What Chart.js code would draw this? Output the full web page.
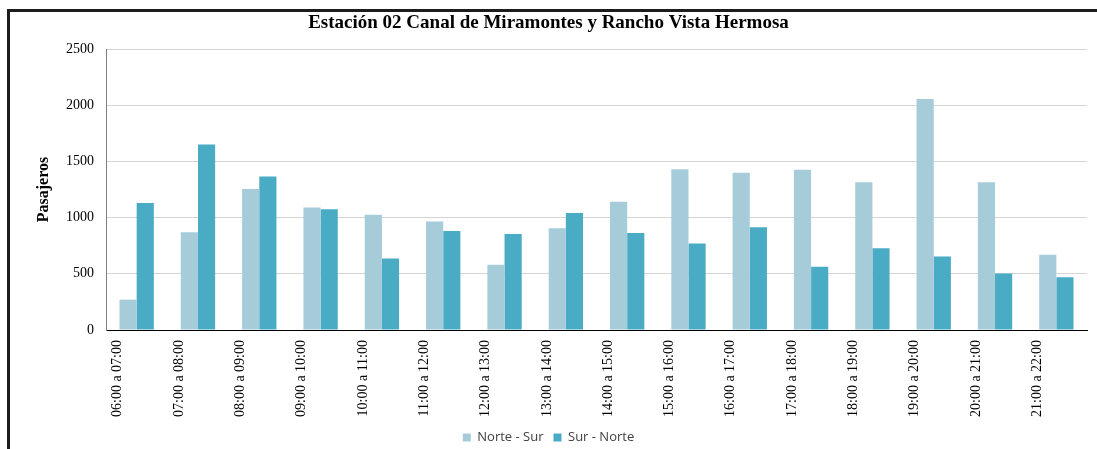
<!DOCTYPE html>
<html lang="es">
<head>
  <meta charset="utf-8">
  <title>Estación 02 Canal de Miramontes y Rancho Vista Hermosa</title>
  <script src="https://cdn.jsdelivr.net/npm/chart.js@4.4.1/dist/chart.umd.min.js"></script>
  <style>
    html, body { margin: 0; padding: 0; background: #fff; overflow: hidden; }
    .frame {
      position: absolute; left: 7px; top: 9px;
      width: 1087px; height: 442px;
      border-top: 3px solid #1c1c1c;
      border-left: 3px solid #1c1c1c;
    }
  </style>
</head>
<body>
<div class="frame">
  <canvas id="grafica"></canvas>
</div>

<script type="text/javascript">
// horarios (eje x)
var horarios = [
  '06:00 a 07:00', '07:00 a 08:00', '08:00 a 09:00', '09:00 a 10:00',
  '10:00 a 11:00', '11:00 a 12:00', '12:00 a 13:00', '13:00 a 14:00',
  '14:00 a 15:00', '15:00 a 16:00', '16:00 a 17:00', '17:00 a 18:00',
  '18:00 a 19:00', '19:00 a 20:00', '20:00 a 21:00', '21:00 a 22:00'
];
// pasajeros por sentido
var norteSur = [270, 870, 1255, 1090, 1025, 965, 580, 905, 1140, 1430, 1400, 1425, 1315, 2055, 1315, 670];
var surNorte = [1130, 1650, 1365, 1075, 637, 880, 855, 1040, 863, 770, 915, 562, 728, 655, 503, 470];
var ticksY = [0, 500, 1000, 1500, 2000, 2500];

var serif = "'Liberation Serif', 'Times New Roman', serif";

var ctx = document.getElementById('grafica').getContext('2d');
new Chart(ctx, {
  type: 'bar',
  data: {
    labels: horarios,
    datasets: [
      {
        label: 'Norte - Sur',
        data: norteSur,
        backgroundColor: '#a6ccda',
        borderWidth: 0
      },
      {
        label: 'Sur - Norte',
        data: surNorte,
        backgroundColor: '#4aabc5',
        borderWidth: 0
      }
    ]
  },
  options: {
    responsive: true,
    maintainAspectRatio: false,
    animation: false,
    datasets: { bar: { categoryPercentage: 0.56, barPercentage: 1.0 } },
    layout: { padding: { left: 0, right: 10, top: 0, bottom: 0 } },
    plugins: {
      title: {
        display: true,
        text: 'Estación 02 Canal de Miramontes y Rancho Vista Hermosa',
        color: '#000',
        font: { family: serif, size: 19, weight: 'bold', lineHeight: 1 },
        padding: { top: 2, bottom: 16 }
      },
      legend: {
        position: 'bottom',
        labels: {
          boxWidth: 8,
          boxHeight: 8,
          padding: 10,
          color: '#404040',
          font: { family: "'Open Sans', sans-serif", size: 13 }
        }
      },
      tooltip: { enabled: false }
    },
    scales: {
      x: {
        grid: { display: false, drawTicks: false },
        border: { color: '#000', width: 1 },
        ticks: {
          autoSkip: false,
          maxRotation: 90,
          minRotation: 90,
          padding: 10,
          labelOffset: -19,
          color: '#000',
          font: { family: serif, size: 14 }
        },
        afterFit: function(scale) { scale.height = 91; }
      },
      y: {
        min: 0,
        max: 2500,
        afterBuildTicks: function(scale) {
          scale.ticks = ticksY.map(function(v) { return { value: v }; });
        },
        grid: { color: '#d4d4d4', drawTicks: false },
        border: { color: '#7f7f7f', width: 1 },
        ticks: {
          padding: 12,
          color: '#000',
          font: { family: serif, size: 14 },
          callback: function(v) { return String(v); }
        },
        title: {
          display: true,
          text: 'Pasajeros',
          color: '#000',
          font: { family: serif, size: 16, weight: 'bold' },
          padding: { top: 24, bottom: 0 }
        },
        afterFit: function(scale) { scale.width = 96; }
      }
    }
  }
});
</script>
</body>
</html>
